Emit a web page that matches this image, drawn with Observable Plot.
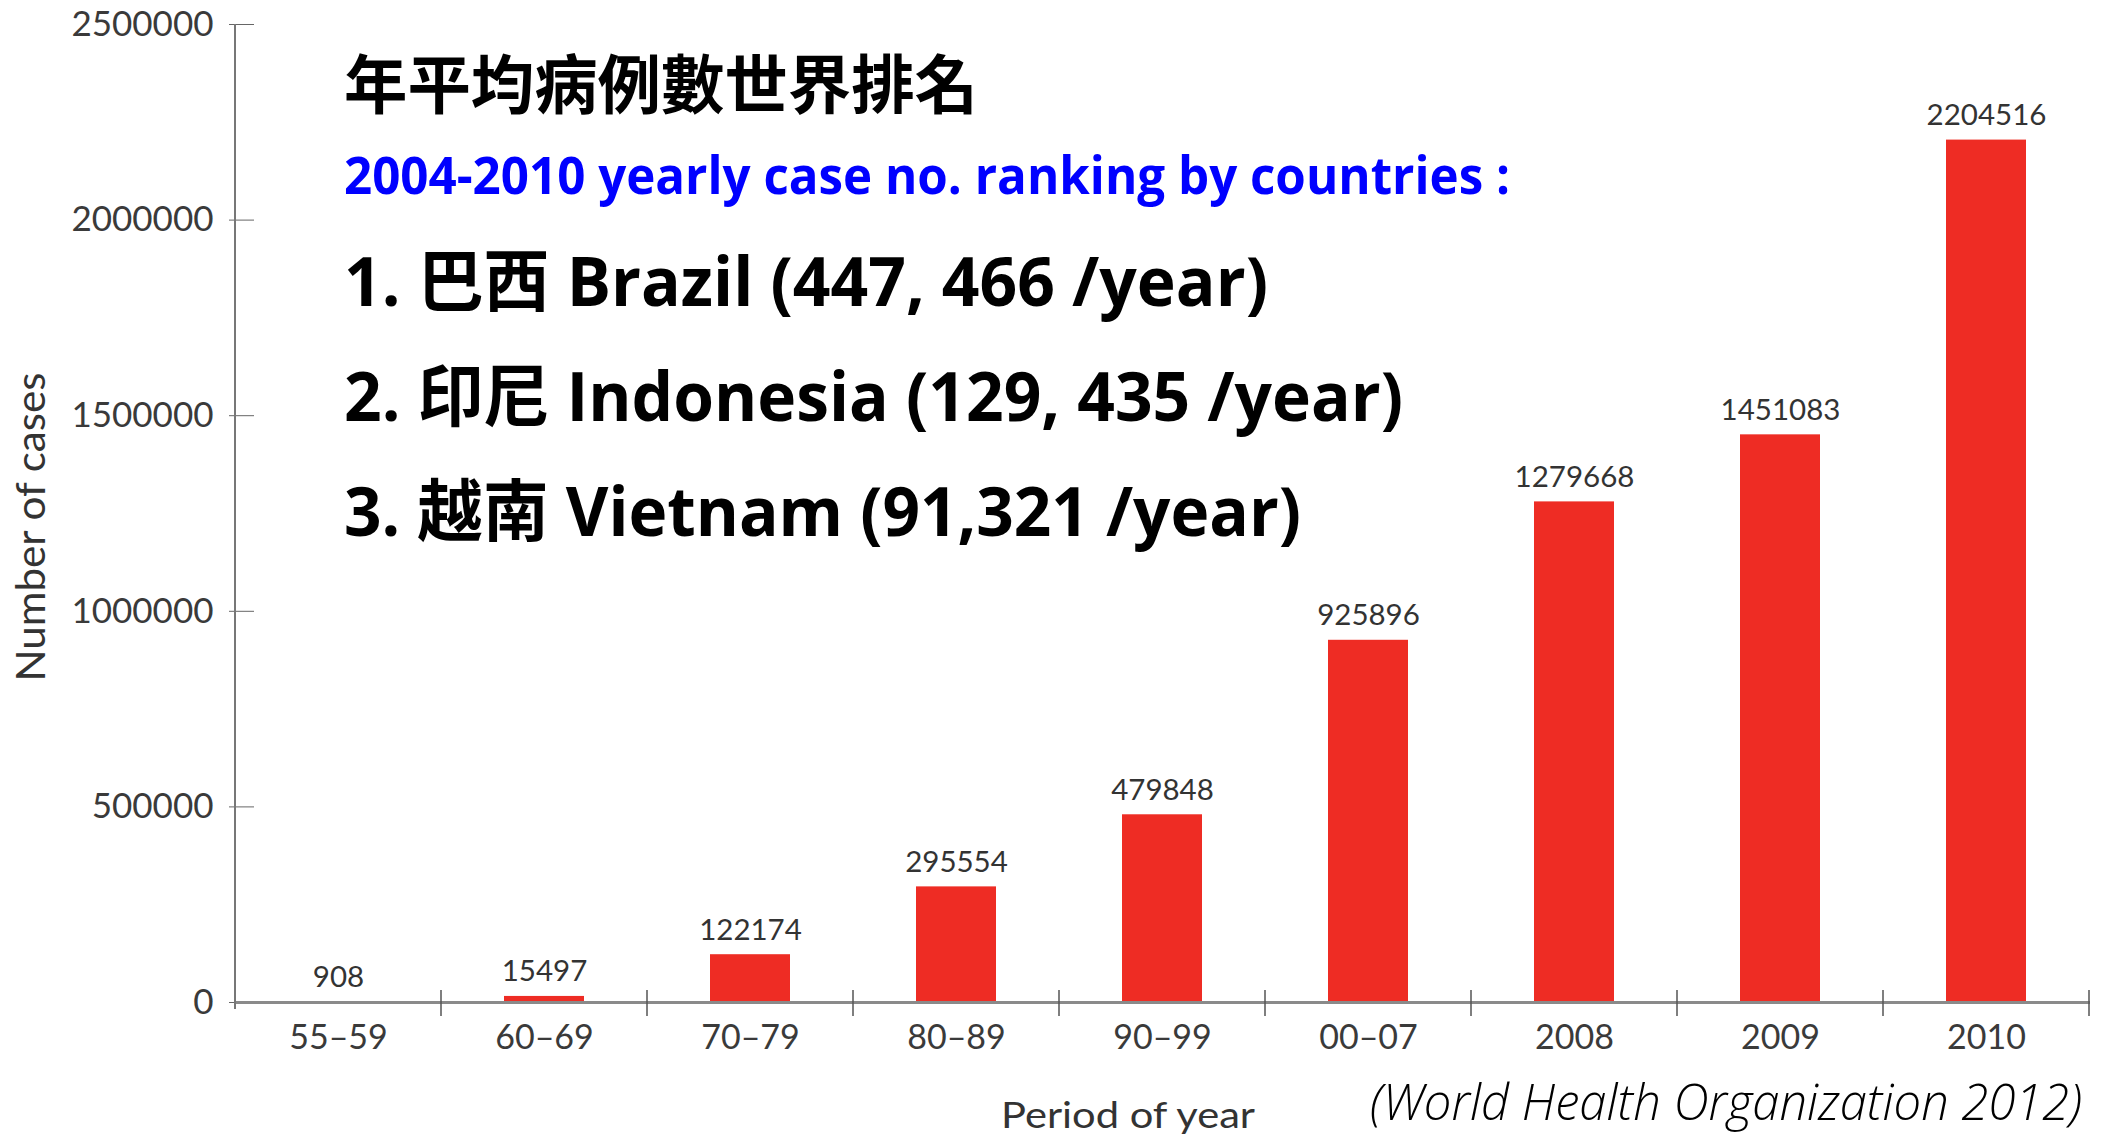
<!DOCTYPE html>
<html>
<head>
<meta charset="utf-8">
<script src="https://cdn.jsdelivr.net/npm/d3@7"></script>
<script src="https://cdn.jsdelivr.net/npm/@observablehq/plot@0.6"></script>
<style>
  html, body { margin: 0; padding: 0; background: #fff; }
  #chart { position: relative; width: 2101px; height: 1140px; overflow: hidden; }
</style>
</head>
<body>
<div id="chart"></div>
<script>
// ---- data ----
const periods = ["55–59", "60–69", "70–79", "80–89", "90–99", "00–07", "2008", "2009", "2010"];
const cases = [908, 15497, 122174, 295554, 479848, 925896, 1279668, 1451083, 2204516];
const yTicks = [0, 500000, 1000000, 1500000, 2000000, 2500000];

const titleText = "年平均病例數世界排名";
const subtitleText = "2004-2010 yearly case no. ranking by countries :";
const rankLines = [
  "1. 巴西 Brazil (447, 466 /year)",
  "2. 印尼 Indonesia (129, 435 /year)",
  "3. 越南 Vietnam (91,321 /year)"
];
const yLabel = "Number of cases";
const xLabel = "Period of year";
const caption = "(World Health Organization 2012)";

const data = periods.map((p, i) => ({period: p, cases: cases[i]}));

const plot = Plot.plot({
  width: 2101,
  height: 1140,
  marginLeft: 235,
  marginRight: 11,
  marginTop: 24,
  marginBottom: 138,
  x: {domain: periods, paddingInner: 0.61, paddingOuter: 0.305, label: null},
  y: {domain: [0, 2500000], label: null},
  style: {fontFamily: "Lato, sans-serif", background: "white", color: "#333"},
  marks: [
    Plot.barY(data, {x: "period", y: "cases", fill: "#EE2C24"}),
    Plot.text(data, {x: "period", y: "cases", text: d => String(d.cases), lineAnchor: "bottom", dy: -15, fontSize: 29.5, fill: "#333"}),
    Plot.axisY({ticks: yTicks, tickSize: 0, tickPadding: 22, fontSize: 35, color: "#3a3a3a", label: null, tickFormat: d => String(d)}),
    Plot.axisY({ticks: yTicks, tickSize: 25, dx: 19, color: "#666", label: null, tickFormat: () => ""}),
    Plot.axisX({tickSize: 0, tickPadding: 22, fontSize: 34, color: "#3a3a3a", label: null}),
    Plot.ruleY([0], {stroke: "#8a8a8a", strokeWidth: 3})
  ]
});

document.getElementById("chart").appendChild(plot);

const svg = d3.select(plot);
const sx = plot.scale("x");
const sy = plot.scale("y");
const step = sx.step;
const bw = sx.bandwidth;
const left = sx.range[0];

// y axis line
svg.append("line")
  .attr("x1", left).attr("x2", left)
  .attr("y1", sy.apply(2500000)).attr("y2", sy.apply(0) + 7)
  .attr("stroke", "#777").attr("stroke-width", 2);

// category separator ticks
periods.forEach(p => {
  const xb = sx.apply(p) + bw / 2 + step / 2;
  svg.append("line")
    .attr("x1", xb).attr("x2", xb)
    .attr("y1", sy.apply(0) - 12).attr("y2", sy.apply(0) + 14)
    .attr("stroke", "#555").attr("stroke-width", 1.5);
});

// axis titles
svg.append("text")
  .attr("transform", `translate(45, 527) rotate(-90)`)
  .attr("text-anchor", "middle")
  .attr("font-family", "Lato, sans-serif").attr("font-size", 40).attr("fill", "#333")
  .attr("textLength", 309).attr("lengthAdjust", "spacingAndGlyphs")
  .text(yLabel);

svg.append("text")
  .attr("x", 1001).attr("y", 1128)
  .attr("text-anchor", "start")
  .attr("font-family", "Lato, sans-serif").attr("font-size", 36).attr("fill", "#333")
  .attr("textLength", 254).attr("lengthAdjust", "spacingAndGlyphs")
  .text(xLabel);

svg.append("text")
  .attr("x", 1370).attr("y", 1120)
  .attr("text-anchor", "start")
  .attr("font-family", "'Open Sans', sans-serif").attr("font-style", "italic").attr("font-weight", 300)
  .attr("font-size", 50).attr("fill", "#000")
  .attr("textLength", 712).attr("lengthAdjust", "spacingAndGlyphs")
  .text(caption);

// overlay titles
const cjk = "'Open Sans', 'Noto Sans CJK TC', sans-serif";
svg.append("text")
  .attr("x", 344).attr("y", 108)
  .attr("text-anchor", "start")
  .attr("font-family", "'Noto Sans CJK TC', sans-serif").attr("font-weight", 700)
  .attr("font-size", 64).attr("fill", "#000")
  .attr("textLength", 634).attr("lengthAdjust", "spacingAndGlyphs")
  .text(titleText);

svg.append("text")
  .attr("x", 344).attr("y", 194)
  .attr("text-anchor", "start")
  .attr("font-family", cjk).attr("font-weight", 700)
  .attr("font-size", 52).attr("fill", "#0000FF")
  .attr("textLength", 1166).attr("lengthAdjust", "spacingAndGlyphs")
  .text(subtitleText);

const rankWidths = [924, 1059, 957];
const rankBase = [306, 421, 536];
rankLines.forEach((t, i) => {
  svg.append("text")
    .attr("x", 344).attr("y", rankBase[i])
    .attr("text-anchor", "start")
    .attr("font-family", cjk).attr("font-weight", 700)
    .attr("font-size", 68).attr("fill", "#000")
    .attr("textLength", rankWidths[i]).attr("lengthAdjust", "spacingAndGlyphs")
    .text(t);
});
</script>
</body>
</html>
